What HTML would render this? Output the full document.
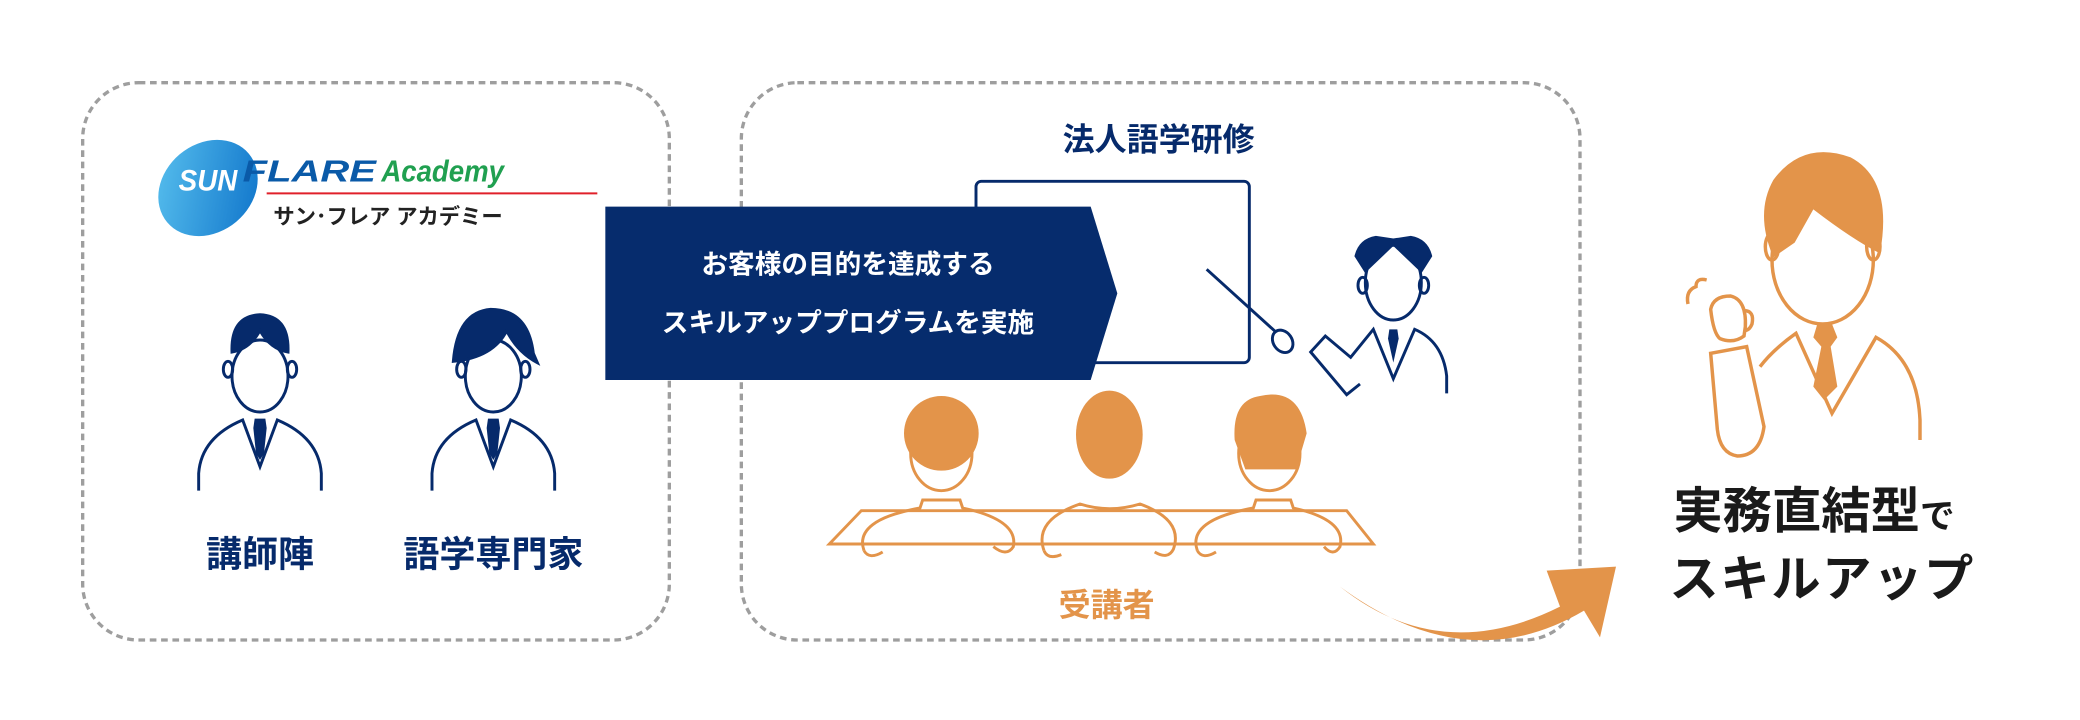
<!DOCTYPE html>
<html><head><meta charset="utf-8"><style>
html,body{margin:0;padding:0;background:#fff;}
svg{display:block}
text{font-family:"Liberation Sans","Noto Sans CJK JP",sans-serif;font-weight:bold}
</style></head><body>
<svg width="2080" height="720" viewBox="0 0 1560 540" xmlns="http://www.w3.org/2000/svg">
<defs>
<linearGradient id="lg" x1="0" y1="0" x2="1" y2="1"><stop offset="0" stop-color="#5cc4f0"/><stop offset="1" stop-color="#0a6fc8"/></linearGradient>
</defs>
<rect x="62" y="62" width="440" height="418" rx="42" fill="none" stroke="#9e9e9e" stroke-width="2.5" stroke-dasharray="5,3.5"/>
<rect x="556" y="62" width="629" height="418" rx="42" fill="none" stroke="#9e9e9e" stroke-width="2.5" stroke-dasharray="5,3.5"/>

<ellipse cx="156" cy="141" rx="40" ry="33" transform="rotate(-40 156 141)" fill="url(#lg)"/>
<text x="134" y="143" font-size="22" fill="#fff" font-style="italic" textLength="44" lengthAdjust="spacingAndGlyphs">SUN</text>
<text x="182" y="136" font-size="23" fill="#0a5aa8" font-style="italic" textLength="100" lengthAdjust="spacingAndGlyphs">FLARE</text>
<text x="286" y="136" font-size="23" fill="#20a050" font-weight="normal" font-style="italic" textLength="92" lengthAdjust="spacingAndGlyphs">Academy</text>
<line x1="200" y1="145" x2="448" y2="145" stroke="#e0202a" stroke-width="1.5"/>
<text x="205" y="168" font-size="16" fill="#222" textLength="172">サン･フレア アカデミー</text>

<g fill="none" stroke="#062a6b" stroke-width="2.2">
 <g transform="translate(195 0)">
  <ellipse cx="0" cy="282" rx="21" ry="27" fill="#fff"/>
  <ellipse cx="-24" cy="277" rx="3.5" ry="6"/><ellipse cx="24" cy="277" rx="3.5" ry="6"/>
  <path d="M-21 264 Q-22 237 0 236 Q22 237 21 264 Q8 262 0 248 Q-8 262 -21 264Z" fill="#062a6b"/>
  <path d="M-46 368 L-46 355 Q-44 328 -13 315 L0 350 L13 315 Q44 328 46 355 L46 368"/>
  <path d="M-4 314 L4 314 L5 321 L3 340 L0 345 L-3 340 L-5 321Z" fill="#062a6b" stroke="none"/>
 </g>
 <g transform="translate(370 0)">
  <ellipse cx="0" cy="282" rx="21" ry="27" fill="#fff"/>
  <ellipse cx="-24" cy="277" rx="3.5" ry="6"/><ellipse cx="24" cy="277" rx="3.5" ry="6"/>
  <path d="M-30 271 Q-27 234 -2 232 Q26 232 30 265 L33 272 Q18 264 10 248 Q0 268 -30 271Z" fill="#062a6b"/>
  <path d="M-46 368 L-46 355 Q-44 328 -13 315 L0 350 L13 315 Q44 328 46 355 L46 368"/>
  <path d="M-4 314 L4 314 L5 321 L3 340 L0 345 L-3 340 L-5 321Z" fill="#062a6b" stroke="none"/>
 </g>
</g>
<text x="195" y="425" font-size="27" fill="#062a6b" text-anchor="middle">講師陣</text>
<text x="370" y="425" font-size="27" fill="#062a6b" text-anchor="middle">語学専門家</text>

<text x="869" y="113" font-size="24" fill="#062a6b" text-anchor="middle">法人語学研修</text>

<rect x="732" y="136" width="205" height="136" rx="4" fill="#fff" stroke="#062a6b" stroke-width="2.2"/>

<polygon points="454,155 818,155 838,220 818,285 454,285" fill="#062c6d"/>
<text x="636" y="205" font-size="20" fill="#fff" text-anchor="middle">お客様の目的を達成する</text>
<text x="636" y="249" font-size="20" fill="#fff" text-anchor="middle">スキルアッププログラムを実施</text>

<g fill="none" stroke="#062a6b" stroke-width="2.2">
 <line x1="905" y1="202" x2="958" y2="250"/>
 <ellipse cx="1045" cy="212" rx="21" ry="28" fill="#fff"/>
 <ellipse cx="1022" cy="214" rx="3.5" ry="6"/><ellipse cx="1068" cy="214" rx="3.5" ry="6"/>
 <path d="M1024 203 L1017 192 Q1020 180 1032 178 L1045 180 L1058 178 Q1070 180 1073 192 L1066 203 L1045 183Z" fill="#062a6b"/>
 <path d="M1085 295 L1085 282 Q1082 256 1061 247 L1045 284 L1030 247 L1013 268 L994 252 L983 264 L1010 296 L1020 288"/>
 <path d="M1042 247 L1048 247 L1049 254 L1045 272 L1041 254Z" fill="#062a6b" stroke="none"/>
 <ellipse cx="962" cy="256" rx="7" ry="9" transform="rotate(-35 962 256)" fill="#fff"/>
</g>

<g fill="none" stroke="#e3944a" stroke-width="2.2">
 <path d="M622 408 L646 383 L1010 383 L1030 408 Z"/>
 <g>
  <ellipse cx="706" cy="340" rx="23" ry="28" fill="#fff"/>
  <circle cx="706" cy="325" r="28" fill="#e3944a" stroke="none"/>
  <path d="M648 413 Q640 390 690 381 L692 375 L720 375 L722 381 Q764 390 760 410 Q755 418 745 410"/>
  <path d="M648 413 Q652 420 662 414"/>
 </g>
 <g>
  <path d="M783 413 Q775 390 810 378 Q832 385 855 378 Q888 390 880 412 Q876 420 866 414"/>
  <path d="M783 413 Q786 420 796 416"/>
 </g>
 <ellipse cx="832" cy="326" rx="25" ry="33" fill="#e3944a" stroke="none"/>
 <g>
  <ellipse cx="952" cy="340" rx="23" ry="28" fill="#fff"/>
  <path d="M926 330 Q924 300 945 297 Q975 290 980 325 L972 352 L934 352Z" fill="#e3944a" stroke="none"/>
  <path d="M898 413 Q890 390 940 381 L942 375 L968 375 L970 381 Q1010 390 1005 410 Q1000 418 993 410"/>
  <path d="M898 413 Q902 420 912 414"/>
 </g>
</g>
<text x="830" y="462" font-size="24" fill="#e3944a" text-anchor="middle">受講者</text>

<path d="M1005 440 Q1080 500 1170 455 L1160 428 L1212 425 L1200 478 L1188 458 Q1100 510 1005 440Z" fill="#e3944a"/>

<g fill="none" stroke="#e3944a" stroke-width="2.6">
 <ellipse cx="1367" cy="195" rx="38" ry="48" fill="#fff"/>
 <ellipse cx="1329" cy="185" rx="5" ry="10"/><ellipse cx="1405" cy="185" rx="5" ry="10"/>
 <path d="M1330 193 Q1316 160 1330 135 Q1352 105 1388 118 Q1420 135 1410 190 Q1390 180 1360 157 L1346 182Z" fill="#e3944a" stroke="none"/>
 <path d="M1440 330 L1440 315 Q1438 270 1407 253 L1374 310 L1347 250 Q1330 262 1320 275"/>
 <path d="M1363 243 L1374 243 L1378 253 L1373 260 L1378 290 L1368 300 L1360 290 L1366 260 L1360 253Z" fill="#e3944a" stroke="none"/>
 <path d="M1283 265 L1310 260 L1323 320 Q1320 342 1303 342 Q1290 340 1288 322Z" fill="#fff"/>
 <path d="M1283 232 Q1285 222 1298 222 Q1310 225 1309 245 L1308 252 Q1300 258 1290 254 Q1285 250 1283 232Z" fill="#fff"/>
 <path d="M1308 233 Q1316 233 1314 243 Q1312 248 1308 248"/>
 <path d="M1266 228 Q1264 218 1272 215 Q1272 208 1280 210"/>
</g>
<text x="1255" y="396" font-size="37" fill="#1a1a1a">実務直結型<tspan font-size="26">で</tspan></text>
<text x="1252" y="447" font-size="37" fill="#1a1a1a" textLength="228">スキルアップ</text>
</svg>
</body></html>
